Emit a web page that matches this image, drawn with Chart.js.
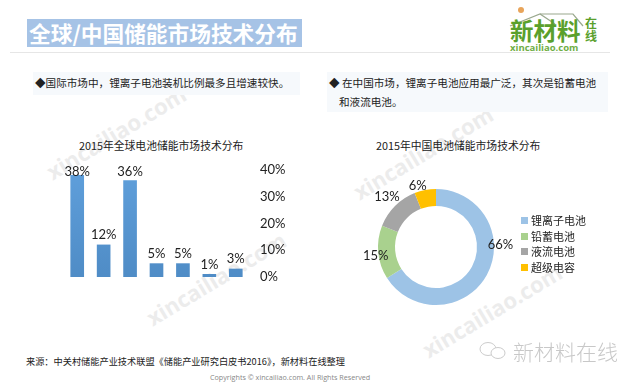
<!DOCTYPE html>
<html>
<head>
<meta charset="utf-8">
<script src="https://cdn.jsdelivr.net/npm/chart.js@4"></script>
<style>
html, body { margin: 0; padding: 0; background: #fff; }
body { width: 626px; height: 392px; overflow: hidden; position: relative; font-family: "Noto Sans CJK SC", sans-serif; color: #222; }
.t { position: absolute; white-space: nowrap; }
.wm { position: absolute; white-space: nowrap; color: #ececec; font: bold 22px "Open Sans", sans-serif; transform-origin: left center; transform: rotate(-31deg); }
canvas { position: absolute; }
.box { position: absolute; background: #f6f9fc; }
.sw { position: absolute; width: 7px; height: 7px; }
</style>
</head>
<body>
<div class="wm" style="left:48px;top:158px">xincailiao.com</div>
<div class="wm" style="left:148px;top:304px">xincailiao.com</div>
<div class="wm" style="left:355px;top:178px">xincailiao.com</div>
<div class="wm" style="left:424px;top:336px">xincailiao.com</div>

<div class="box" style="left:27px;top:19px;width:275px;height:28px;background:#a6c3e6"></div>
<div class="t" style="left:29px;top:18px;font-size:21.7px;line-height:30px;font-weight:bold;color:#fff">全球/中国储能市场技术分布</div>
<div class="box" style="left:10px;top:52px;width:600px;height:1px;background:#e6e6e6"></div>

<svg style="position:absolute;left:505px;top:6px" width="90" height="22">
  <circle cx="16" cy="4" r="3" fill="#e8a45a"/>
  <polyline points="5,20 35,8 50,18" fill="none" stroke="#9aa88e" stroke-width="1.2"/>
  <polyline points="35,8 68,8 78,20" fill="none" stroke="#9aa88e" stroke-width="1.2"/>
</svg>
<div class="t" style="left:510px;top:16px;font-size:23.5px;line-height:28px;font-weight:bold;color:#5aa02c">新材料</div>
<div class="t" style="left:585px;top:16px;width:13px;font-size:12px;line-height:13px;font-weight:bold;color:#5aa02c;white-space:normal">在线</div>
<div class="t" style="left:510px;top:42px;font:bold 9.5px/12px 'Open Sans',sans-serif;color:#6fae45">xincailiao.com</div>

<div class="box" style="left:33px;top:72px;width:267px;height:23px"></div>
<div class="t" style="left:35px;top:75px;font-size:10.6px;line-height:16px">◆国际市场中，锂离子电池装机比例最多且增速较快。</div>
<div class="box" style="left:327px;top:72px;width:281px;height:40px"></div>
<div class="t" style="left:329px;top:75px;font-size:10.6px;line-height:16px">◆ 在中国市场，锂离子电池应用最广泛，其次是铅蓄电池</div>
<div class="t" style="left:339px;top:94px;font-size:10.6px;line-height:16px">和液流电池。</div>

<div class="t" id="barTitle" style="left:79px;top:137px;font-size:10.8px;line-height:16px"></div>
<div class="t" id="pieTitle" style="left:376px;top:137px;font-size:10.8px;line-height:16px"></div>

<canvas id="barChart" width="250" height="140" style="left:50px;top:155px"></canvas>
<canvas id="pieChart" width="172" height="164" style="left:350px;top:165px"></canvas>
<div id="legend"></div>

<div class="t" style="left:26px;top:354px;font-size:9.2px;line-height:14px">来源：中关村储能产业技术联盟《储能产业研究白皮书2016》，新材料在线整理</div>
<div class="t" style="left:210px;top:372px;font:7.2px/10px 'Open Sans',sans-serif;color:#888">Copyrights © xincailiao.com. All Rights Reserved</div>

<svg style="position:absolute;left:476px;top:340px" width="36" height="22">
  <ellipse cx="12" cy="9" rx="8" ry="6.5" fill="none" stroke="#ccc"/>
  <ellipse cx="22" cy="13" rx="7" ry="5.5" fill="#fff" stroke="#ccc"/>
</svg>
<div class="t" style="left:513px;top:339px;font-size:21px;line-height:24px;font-weight:300;color:#c8c8c8">新材料在线</div>

<script>
var barTitle = '2015年全球电池储能市场技术分布';
var barCategories = ['A', 'B', 'C', 'D', 'E', 'F', 'G'];
var barValues = [38, 12, 36, 5, 5, 1, 3];
var barTicks = [0, 10, 20, 30, 40];

var pieTitle = '2015年中国电池储能市场技术分布';
var pieLabels = ['锂离子电池', '铅蓄电池', '液流电池', '超级电容'];
var pieValues = [66, 15, 13, 6];
var pieColors = ['#9dc3e6', '#a9d18e', '#a5a5a5', '#ffc000'];
// labels were moved by hand in the original, so nudge them off the arc centre
var pieLabelOffsets = [[21, -26], [-11, 4], [-14, -15], [-9, -13]];

var labelFont = '13px Lato, "Noto Sans CJK SC", sans-serif';

document.getElementById('barTitle').textContent = barTitle;
document.getElementById('pieTitle').textContent = pieTitle;

// legend is laid out next to the ring
var legend = document.getElementById('legend');
pieLabels.forEach(function (label, i) {
    var top = 220 + i * 15.5;
    var sw = document.createElement('div');
    sw.className = 'sw';
    sw.style.cssText = 'left:521px;top:' + (top - 3) + 'px;background:' + pieColors[i];
    legend.appendChild(sw);
    var txt = document.createElement('div');
    txt.className = 't';
    txt.style.cssText = 'left:531px;top:' + (top - 8) + 'px;font-size:11px;line-height:16px';
    txt.textContent = label;
    legend.appendChild(txt);
});

var barLabels = {
    id: 'barLabels',
    afterDatasetsDraw: function (chart) {
        var ctx = chart.ctx;
        ctx.save();
        ctx.font = labelFont;
        ctx.fillStyle = '#222';
        ctx.textAlign = 'center';
        ctx.textBaseline = 'middle';
        chart.getDatasetMeta(0).data.forEach(function (bar, i) {
            // tallest bars run into the top, their labels stay on one line
            ctx.fillText(barValues[i] + '%', bar.x, Math.max(bar.y - 10, chart.chartArea.top + 2));
        });
        ctx.restore();
    }
};

var pieText = {
    id: 'pieText',
    afterDatasetsDraw: function (chart) {
        var ctx = chart.ctx;
        ctx.save();
        ctx.font = labelFont;
        ctx.fillStyle = '#222';
        ctx.textAlign = 'center';
        ctx.textBaseline = 'middle';
        chart.getDatasetMeta(0).data.forEach(function (arc, i) {
            var p = arc.getCenterPoint();
            ctx.fillText(pieValues[i] + '%', p.x + pieLabelOffsets[i][0], p.y + pieLabelOffsets[i][1]);
        });
        ctx.restore();
    }
};

new Chart(document.getElementById('barChart').getContext('2d'), {
    type: 'bar',
    data: {
        labels: barCategories,
        datasets: [{
            data: barValues,
            barThickness: 13,
            backgroundColor: function (c) {
                var area = c.chart.chartArea;
                if (!area) return '#5b9bd5';
                var g = c.chart.ctx.createLinearGradient(0, area.top, 0, area.bottom);
                g.addColorStop(0, '#5f9fdb');
                g.addColorStop(1, '#4f8cc6');
                return g;
            }
        }]
    },
    options: {
        responsive: false,
        animation: false,
        layout: { padding: { left: 14, top: 15, bottom: 18, right: 0 } },
        plugins: { legend: { display: false }, tooltip: { enabled: false } },
        scales: {
            x: { display: false },
            y: {
                position: 'right',
                min: 0,
                max: 40,
                afterFit: function (axis) { axis.width = 51; },
                afterBuildTicks: function (axis) {
                    axis.ticks = barTicks.map(function (v) { return { value: v }; });
                },
                grid: { display: false },
                border: { display: false },
                ticks: {
                    padding: 3,
                    color: '#222',
                    font: { family: 'Lato, sans-serif', size: 13 },
                    callback: function (v) { return v + '%'; }
                }
            }
        }
    },
    plugins: [barLabels]
});

new Chart(document.getElementById('pieChart').getContext('2d'), {
    type: 'doughnut',
    data: {
        labels: pieLabels,
        datasets: [{
            data: pieValues,
            backgroundColor: pieColors,
            borderWidth: 0
        }]
    },
    options: {
        responsive: false,
        animation: false,
        radius: 58,
        cutout: '70.7%',
        plugins: { legend: { display: false }, tooltip: { enabled: false } }
    },
    plugins: [pieText]
});
</script>
</body>
</html>
